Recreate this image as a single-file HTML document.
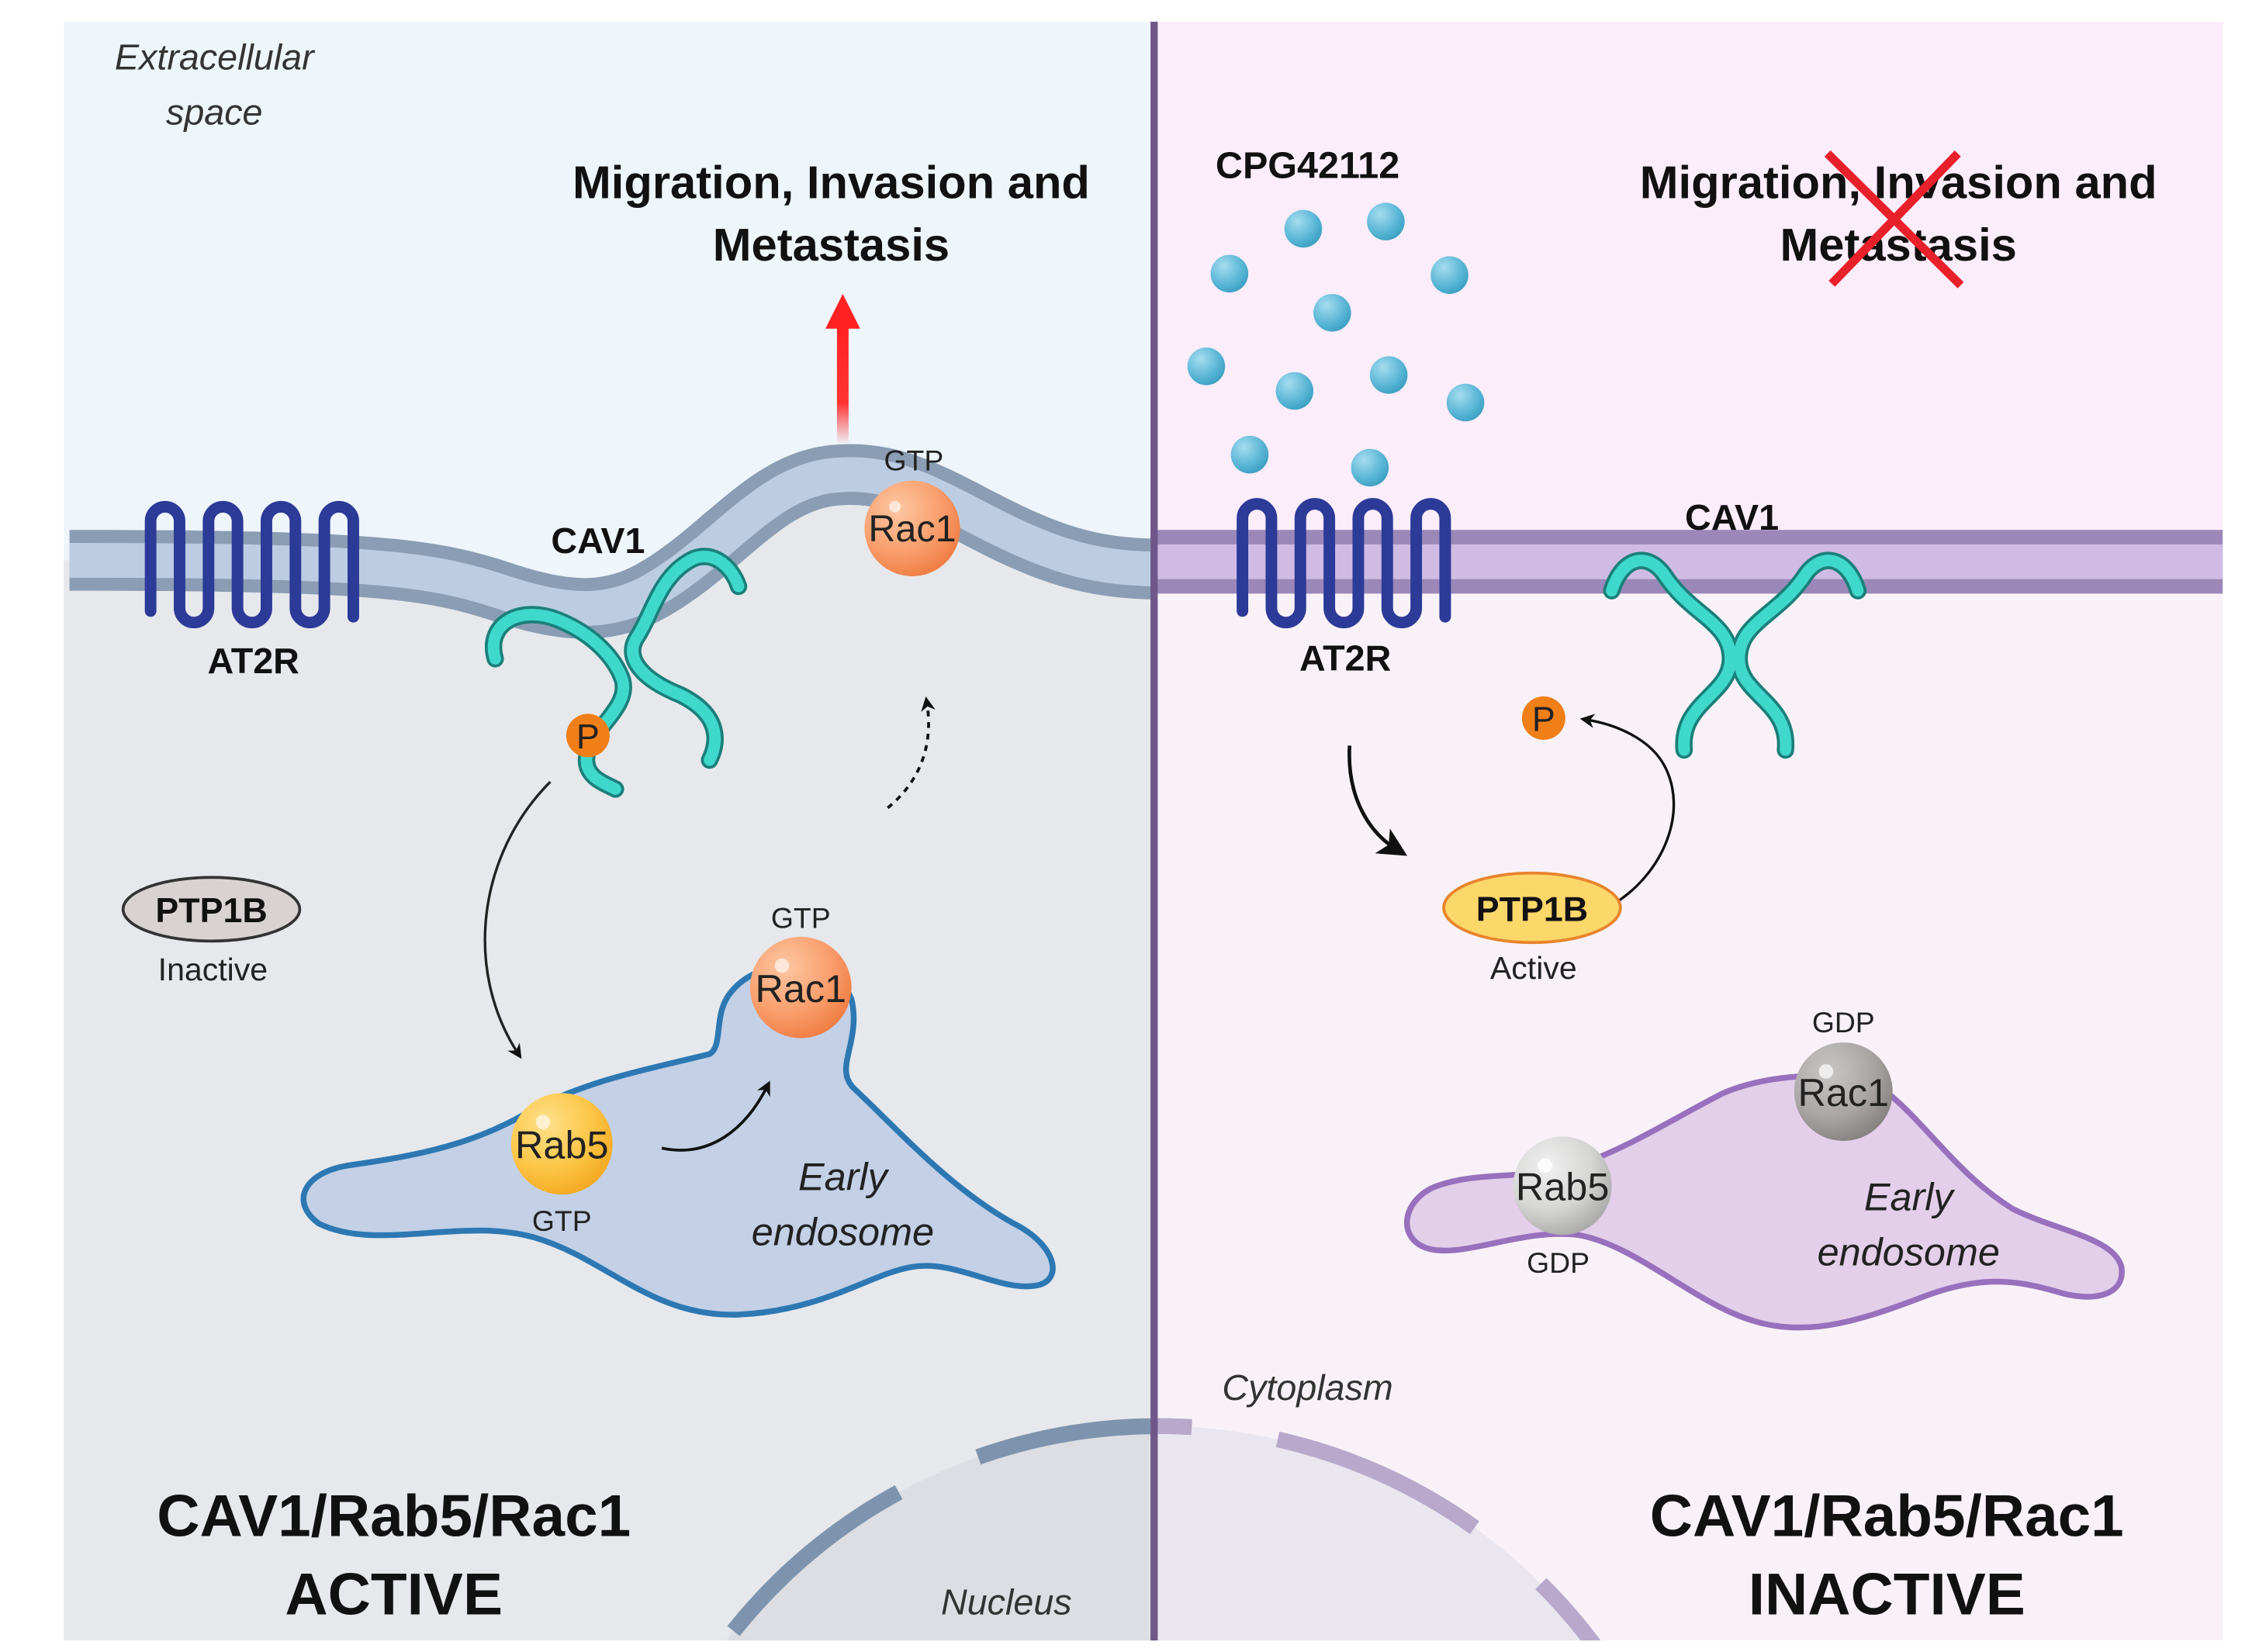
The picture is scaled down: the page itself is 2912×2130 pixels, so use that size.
<!DOCTYPE html>
<html><head><meta charset="utf-8"><style>
html,body{margin:0;padding:0;background:#fff;width:2912px;height:2130px;overflow:hidden;}
svg{display:block;}
text{font-family:"Liberation Sans",Arial,sans-serif;}
</style></head><body>
<svg width="2912" height="2130" viewBox="0 0 1560 1141" preserveAspectRatio="none" xmlns="http://www.w3.org/2000/svg">
<defs>
<radialGradient id="gOr" cx="0.35" cy="0.3" r="0.75"><stop offset="0" stop-color="#fdc7a3"/><stop offset="0.6" stop-color="#f99e6c"/><stop offset="1" stop-color="#f07d43"/></radialGradient>
<radialGradient id="gYe" cx="0.35" cy="0.3" r="0.75"><stop offset="0" stop-color="#fee08a"/><stop offset="0.6" stop-color="#fcc646"/><stop offset="1" stop-color="#f4a821"/></radialGradient>
<radialGradient id="gGd" cx="0.35" cy="0.3" r="0.75"><stop offset="0" stop-color="#c9c7c6"/><stop offset="0.6" stop-color="#a9a6a5"/><stop offset="1" stop-color="#85817f"/></radialGradient>
<radialGradient id="gGl" cx="0.35" cy="0.3" r="0.75"><stop offset="0" stop-color="#f0f0f0"/><stop offset="0.6" stop-color="#d5d5d4"/><stop offset="1" stop-color="#a9a9a8"/></radialGradient>
<radialGradient id="gBl" cx="0.35" cy="0.3" r="0.75"><stop offset="0" stop-color="#a6dcef"/><stop offset="0.6" stop-color="#5fb9d8"/><stop offset="1" stop-color="#3b9fc2"/></radialGradient>
<linearGradient id="gRed" x1="0" y1="1" x2="0" y2="0"><stop offset="0" stop-color="#f33" stop-opacity="0"/><stop offset="0.35" stop-color="#f33"/><stop offset="1" stop-color="#f22"/></linearGradient>
<clipPath id="cL"><rect x="44" y="15" width="753" height="1118"/></clipPath>
<clipPath id="cR"><rect x="797" y="15" width="738" height="1118"/></clipPath>
<marker id="ah" markerWidth="10" markerHeight="10" refX="6" refY="5" orient="auto" markerUnits="userSpaceOnUse"><path d="M0,0 L10,5 L0,10 L3,5 Z" fill="#111"/></marker>
<marker id="ahB" markerWidth="20" markerHeight="20" refX="12" refY="10" orient="auto" markerUnits="userSpaceOnUse"><path d="M0,0 L20,10 L0,20 L5,10 Z" fill="#111"/></marker>
</defs>

<rect x="0" y="0" width="1560" height="1141" fill="#fff"/>
<g clip-path="url(#cL)">
<rect x="44" y="15" width="753" height="1118" fill="#e6e8ec"/>
<path d="M44,15 H797 V393 C760,393 730,385 690,365 C650,345 620,325 580,328 C530,330 500,380 450,408 C420,425 390,423 350,410 C300,393 260,387 44,387 Z" fill="#eef5fb"/>
<circle cx="800" cy="1360" r="375" fill="#dcdee3"/>
<path d="M48,387 C260,387 300,393 350,410 C390,423 420,425 450,408 C500,380 530,330 580,328 C620,325 650,345 690,365 C730,385 760,393 800,393" fill="none" stroke="#8a9db4" stroke-width="42"/>
<path d="M48,387 C260,387 300,393 350,410 C390,423 420,425 450,408 C500,380 530,330 580,328 C620,325 650,345 690,365 C730,385 760,393 800,393" fill="none" stroke="#bccde3" stroke-width="24"/>
<circle cx="800" cy="1360" r="375" fill="none" stroke="#7e94ae" stroke-width="11" stroke-dasharray="150,60" stroke-dashoffset="40"/>
</g>
<g clip-path="url(#cR)">
<rect x="797" y="15" width="738" height="1118" fill="#f8f2f8"/>
<rect x="797" y="15" width="738" height="352" fill="#fcedfb"/>
<circle cx="800" cy="1360" r="375" fill="#e9e6f0"/>
<rect x="797" y="366" width="738" height="44" fill="#9b88b8"/>
<rect x="797" y="376" width="738" height="24" fill="#cfbbe4"/>
<circle cx="800" cy="1360" r="375" fill="none" stroke="#b8a9cc" stroke-width="11" stroke-dasharray="150,60" stroke-dashoffset="40"/>
</g>
<line x1="797" y1="15" x2="797" y2="1133" stroke="#6f5889" stroke-width="5"/>

<path d="M104,422 V360 A10,10 0 0 1 124,360 V420 A10,10 0 0 0 144,420 V360 A10,10 0 0 1 164,360 V420 A10,10 0 0 0 184,420 V360 A10,10 0 0 1 204,360 V420 A10,10 0 0 0 224,420 V360 A10,10 0 0 1 244,360 V426" fill="none" stroke="#2c3a98" stroke-width="8" stroke-linecap="round"/>
<path d="M858,422 V358 A10,10 0 0 1 878,358 V420 A10,10 0 0 0 898,420 V358 A10,10 0 0 1 918,358 V420 A10,10 0 0 0 938,420 V358 A10,10 0 0 1 958,358 V420 A10,10 0 0 0 978,420 V358 A10,10 0 0 1 998,358 V426" fill="none" stroke="#2c3a98" stroke-width="8" stroke-linecap="round"/>

<g fill="none" stroke-linecap="round" stroke-linejoin="round">
<path d="M342,455 C335,430 360,418 385,428 C410,438 425,455 430,470 C435,490 405,505 405,525 C405,538 420,542 425,545" stroke="#1b7f7a" stroke-width="12"/>
<path d="M510,405 C505,390 490,378 475,388 C455,400 450,425 440,440 C430,455 445,470 470,480 C500,495 495,515 490,525" stroke="#1b7f7a" stroke-width="12"/>
<path d="M342,455 C335,430 360,418 385,428 C410,438 425,455 430,470 C435,490 405,505 405,525 C405,538 420,542 425,545" stroke="#3fd9cc" stroke-width="8"/>
<path d="M510,405 C505,390 490,378 475,388 C455,400 450,425 440,440 C430,455 445,470 470,480 C500,495 495,515 490,525" stroke="#3fd9cc" stroke-width="8"/>
<path d="M1113,408 C1120,385 1138,380 1150,398 C1168,425 1195,430 1195,455 C1195,480 1160,485 1163,518" stroke="#1b7f7a" stroke-width="12"/>
<path d="M1283,408 C1276,385 1258,380 1246,398 C1228,425 1201,430 1201,455 C1201,480 1236,485 1233,518" stroke="#1b7f7a" stroke-width="12"/>
<path d="M1113,408 C1120,385 1138,380 1150,398 C1168,425 1195,430 1195,455 C1195,480 1160,485 1163,518" stroke="#3fd9cc" stroke-width="8"/>
<path d="M1283,408 C1276,385 1258,380 1246,398 C1228,425 1201,430 1201,455 C1201,480 1236,485 1233,518" stroke="#3fd9cc" stroke-width="8"/>
</g>

<circle cx="406" cy="508" r="15" fill="#f07f17"/>
<text x="406" y="517" font-size="24" text-anchor="middle" fill="#222">P</text>
<circle cx="1066" cy="496" r="15" fill="#f07f17"/>
<text x="1066" y="505" font-size="24" text-anchor="middle" fill="#222">P</text>

<rect x="578" y="225" width="8" height="82" fill="url(#gRed)"/>
<path d="M570,227 L582,203 L594,227 Z" fill="#f22"/>

<circle cx="630" cy="365" r="33" fill="url(#gOr)"/>
<circle cx="618" cy="350" r="4" fill="#fff" opacity="0.6"/>
<text x="630" y="374" font-size="26" text-anchor="middle" fill="#222">Rac1</text>
<text x="631" y="325" font-size="20" text-anchor="middle" fill="#222">GTP</text>

<path d="M220,845 C200,830 210,810 240,805 C290,798 330,790 370,765 C410,745 450,738 490,728 C500,722 492,700 505,685 C525,660 575,660 588,690 C595,720 575,738 590,752 C620,780 655,820 700,845 C730,860 735,885 715,888 C690,892 660,870 630,875 C600,880 570,905 510,908 C450,910 420,870 370,855 C320,840 260,865 220,845 Z" fill="#c3d0e6" stroke="#2d78b3" stroke-width="4"/>
<circle cx="553" cy="682" r="35" fill="url(#gOr)"/>
<circle cx="540" cy="667" r="5" fill="#fff" opacity="0.6"/>
<text x="553" y="692" font-size="27" text-anchor="middle" fill="#222">Rac1</text>
<text x="553" y="641" font-size="20" text-anchor="middle" fill="#222">GTP</text>
<circle cx="388" cy="790" r="35" fill="url(#gYe)"/>
<circle cx="375" cy="775" r="5" fill="#fff" opacity="0.6"/>
<text x="388" y="800" font-size="27" text-anchor="middle" fill="#222">Rab5</text>
<text x="388" y="850" font-size="20" text-anchor="middle" fill="#222">GTP</text>
<text x="582" y="822" font-size="27" font-style="italic" text-anchor="middle" fill="#222">Early</text>
<text x="582" y="860" font-size="27" font-style="italic" text-anchor="middle" fill="#222">endosome</text>

<path d="M985,862 C965,855 968,830 990,820 C1020,808 1060,815 1090,805 C1130,790 1160,770 1190,755 C1220,742 1270,738 1300,752 C1330,775 1350,810 1390,835 C1420,850 1460,855 1465,875 C1468,895 1445,900 1420,892 C1395,885 1370,880 1330,895 C1290,910 1250,925 1210,912 C1170,900 1130,860 1090,853 C1050,848 1010,870 985,862 Z" fill="#e3cfe9" stroke="#9870bd" stroke-width="4"/>
<circle cx="1273" cy="754" r="34" fill="url(#gGd)"/>
<circle cx="1261" cy="740" r="5" fill="#fff" opacity="0.7"/>
<text x="1273" y="764" font-size="27" text-anchor="middle" fill="#222">Rac1</text>
<text x="1273" y="713" font-size="20" text-anchor="middle" fill="#222">GDP</text>
<circle cx="1079" cy="819" r="34" fill="url(#gGl)"/>
<circle cx="1067" cy="805" r="5" fill="#fff" opacity="0.8"/>
<text x="1079" y="829" font-size="27" text-anchor="middle" fill="#222">Rab5</text>
<text x="1076" y="879" font-size="20" text-anchor="middle" fill="#222">GDP</text>
<text x="1318" y="836" font-size="27" font-style="italic" text-anchor="middle" fill="#222">Early</text>
<text x="1318" y="874" font-size="27" font-style="italic" text-anchor="middle" fill="#222">endosome</text>

<path d="M380,540 C330,590 320,670 358,728" fill="none" stroke="#222" stroke-width="1.8" marker-end="url(#ah)"/>
<path d="M457,793 C490,800 515,780 530,750" fill="none" stroke="#111" stroke-width="2" marker-end="url(#ah)"/>
<path d="M613,558 C635,540 645,515 640,485" fill="none" stroke="#111" stroke-width="2" stroke-dasharray="4,4" marker-end="url(#ah)"/>
<path d="M932,515 C930,550 945,575 965,587" fill="none" stroke="#111" stroke-width="2.5" marker-end="url(#ahB)"/>
<path d="M1118,622 C1150,600 1165,560 1150,530 C1140,510 1115,500 1095,497" fill="none" stroke="#111" stroke-width="1.8" marker-end="url(#ah)"/>

<ellipse cx="146" cy="628" rx="61" ry="22" fill="#d9d2d3" stroke="#333" stroke-width="2"/>
<text x="146" y="637" font-size="24" font-weight="bold" text-anchor="middle" fill="#111">PTP1B</text>
<text x="147" y="677" font-size="22" text-anchor="middle" fill="#222">Inactive</text>
<ellipse cx="1058" cy="627" rx="61" ry="24" fill="#fcd76a" stroke="#e8842c" stroke-width="2"/>
<text x="1058" y="636" font-size="24" font-weight="bold" text-anchor="middle" fill="#111">PTP1B</text>
<text x="1059" y="676" font-size="22" text-anchor="middle" fill="#222">Active</text>

<g fill="url(#gBl)">
<circle cx="900" cy="158" r="13"/><circle cx="957" cy="153" r="13"/><circle cx="849" cy="189" r="13"/>
<circle cx="1001" cy="190" r="13"/><circle cx="920" cy="216" r="13"/><circle cx="833" cy="253" r="13"/>
<circle cx="894" cy="270" r="13"/><circle cx="959" cy="259" r="13"/><circle cx="1012" cy="278" r="13"/>
<circle cx="863" cy="314" r="13"/><circle cx="946" cy="323" r="13"/>
</g>

<text x="148" y="48" font-size="25" font-style="italic" text-anchor="middle" fill="#333">Extracellular</text>
<text x="148" y="86" font-size="25" font-style="italic" text-anchor="middle" fill="#333">space</text>
<text x="574" y="137" font-size="32" font-weight="bold" text-anchor="middle" fill="#111">Migration, Invasion and</text>
<text x="574" y="180" font-size="32" font-weight="bold" text-anchor="middle" fill="#111">Metastasis</text>
<text x="1311" y="137" font-size="32" font-weight="bold" text-anchor="middle" fill="#111">Migration, Invasion and</text>
<text x="1311" y="180" font-size="32" font-weight="bold" text-anchor="middle" fill="#111">Metastasis</text>
<line x1="1265" y1="196" x2="1352" y2="106" stroke="#e8202a" stroke-width="6"/>
<line x1="1262" y1="106" x2="1354" y2="197" stroke="#e8202a" stroke-width="6"/>
<text x="903" y="123" font-size="26" font-weight="bold" text-anchor="middle" fill="#111">CPG42112</text>
<text x="413" y="382" font-size="25" font-weight="bold" text-anchor="middle" fill="#111">CAV1</text>
<text x="1196" y="366" font-size="25" font-weight="bold" text-anchor="middle" fill="#111">CAV1</text>
<text x="175" y="465" font-size="25" font-weight="bold" text-anchor="middle" fill="#111">AT2R</text>
<text x="929" y="463" font-size="25" font-weight="bold" text-anchor="middle" fill="#111">AT2R</text>
<text x="903" y="967" font-size="25" font-style="italic" text-anchor="middle" fill="#333">Cytoplasm</text>
<text x="695" y="1115" font-size="25" font-style="italic" text-anchor="middle" fill="#333">Nucleus</text>
<text x="272" y="1061" font-size="41" font-weight="bold" text-anchor="middle" fill="#111">CAV1/Rab5/Rac1</text>
<text x="272" y="1115" font-size="41" font-weight="bold" text-anchor="middle" fill="#111">ACTIVE</text>
<text x="1303" y="1061" font-size="41" font-weight="bold" text-anchor="middle" fill="#111">CAV1/Rab5/Rac1</text>
<text x="1303" y="1115" font-size="41" font-weight="bold" text-anchor="middle" fill="#111">INACTIVE</text>
</svg>
</body></html>
